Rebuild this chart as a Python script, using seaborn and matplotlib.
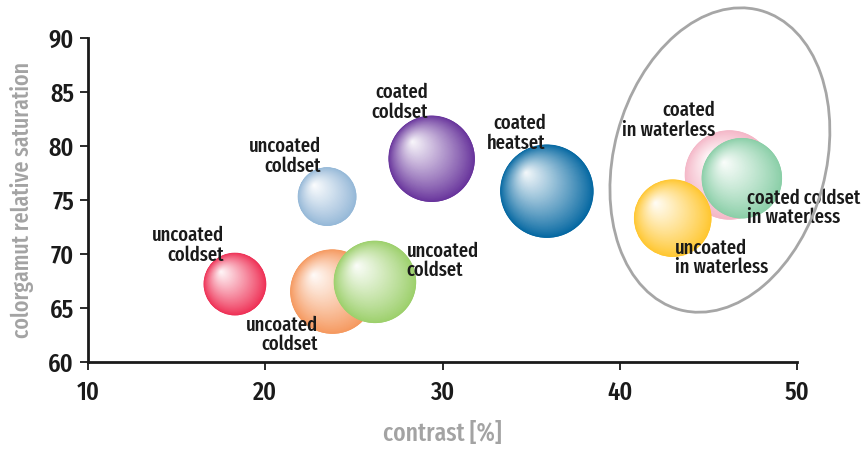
import numpy as np
import matplotlib
matplotlib.use("Agg")
import matplotlib.pyplot as plt
import seaborn as sns
import pandas as pd
from matplotlib.patches import Ellipse
from matplotlib.colors import to_rgb
from matplotlib import font_manager
from matplotlib.font_manager import FontProperties
from matplotlib.textpath import TextPath

# ---------------- data ----------------
labels = ["uncoated\ncoldset", "uncoated\ncoldset", "uncoated\ncoldset", "uncoated\ncoldset",
          "coated\ncoldset", "coated\nheatset", "coated\nin waterless",
          "coated coldset\nin waterless", "uncoated\nin waterless"]
contrast = [18.3, 23.5, 23.8, 26.2, 29.4, 35.9, 46.2, 46.9, 43.0]
saturation = [67.2, 75.3, 66.5, 67.4, 78.8, 75.8, 77.3, 77.0, 73.3]
bubble_size = [31, 29, 42, 41, 43, 46.5, 44.5, 40, 38.5]
bubble_colors = ["#EE2C52", "#93B7D7", "#F5975C", "#9BCF69", "#65309A",
                 "#0065A0", "#F4B6C7", "#88CEA6", "#FFC62C"]

# label anchors (data coords) and alignment
label_x = [17.67, 23.14, 22.97, 27.99, 29.18, 35.83, 45.36, 47.2, 43.1]
label_y = [70.83, 79.07, 62.5, 69.35, 84.07, 81.2, 82.4, 74.26, 69.63]
label_ha = ["right", "right", "right", "left", "right", "right", "right", "left", "left"]

x_ticks = [10, 20, 30, 40, 50]
y_ticks = [60, 65, 70, 75, 80, 85, 90]

ell_center = (45.65, 78.7)

DPI = 100

# ---------------- font search (condensed face preferred) ----------------
sns.set_theme(style="white")


def font_score(fn):
    fn = fn.lower().replace("-", "").replace("_", "").replace(" ", "")
    if "extracondensed" in fn or "ultracondensed" in fn:
        s = 0
    elif "semicondensed" in fn:
        s = 4
    elif "condensed" in fn or "narrow" in fn:
        s = 2
    else:
        return None
    if "italic" in fn or "oblique" in fn:
        s += 20
    if "medium" in fn:
        s += 0
    elif "semibold" in fn or "demibold" in fn:
        s += 1.5
    elif "extrabold" in fn or "black" in fn or "heavy" in fn:
        s += 12
    elif "bold" in fn:
        s += 6
    elif "extralight" in fn or "thin" in fn:
        s += 12
    elif "light" in fn:
        s += 6
    else:
        s += 1
    return s


cands = []
for f in font_manager.fontManager.ttflist:
    sc = font_score(f.fname.split("/")[-1])
    if sc is not None:
        cands.append((sc, f.fname))
cands.sort()
FONT_FILE = cands[0][1] if cands else None


def base_prop(size):
    if FONT_FILE:
        return FontProperties(fname=FONT_FILE, size=size)
    return FontProperties(family="DejaVu Sans", size=size)


def size_for(text, target_px, dim="width"):
    ext = TextPath((0, 0), text, prop=base_prop(10)).get_extents()
    w = ext.width if dim == "width" else ext.height
    return 10 * (target_px * 72.0 / DPI) / w


label_size = size_for("uncoated", 70)
tick_size = size_for("0", 18.5, dim="height")
xlab_size = size_for("contrast [%]", 117)
ylab_size = size_for("colorgamut relative saturation", 275)
plt.rcParams["font.family"] = ["DejaVu Sans"]

fig = plt.figure(figsize=(8.64, 4.51), dpi=DPI)
ax = fig.add_axes([88 / 864, 1 - 362 / 451, (797 - 88) / 864, (362 - 38) / 451])
ax.set_xlim(10, 50)
ax.set_ylim(60, 90)

df = pd.DataFrame({"contrast": contrast, "saturation": saturation})

px2pt = 72.0 / DPI
for i in range(len(contrast)):
    r = bubble_size[i]
    base = np.array(to_rgb(bubble_colors[i]))
    sns.scatterplot(data=df.iloc[[i]], x="contrast", y="saturation", ax=ax,
                    s=(2 * r * px2pt) ** 2, color=bubble_colors[i],
                    edgecolor="none", linewidth=0, zorder=3 + i * 0.01, legend=False)
    cx, cy = ax.transData.transform((contrast[i], saturation[i]))
    n = 70
    t = np.linspace(0.0, 1.0, n)[1:]
    off = np.array([-0.45 * r, 0.4 * r])
    xs = cx + t * off[0]
    ys = cy + t * off[1]
    pts = ax.transData.inverted().transform(np.column_stack([xs, ys]))
    radii = r * (1 - t) + 0.8
    w = np.clip(0.95 * t ** 0.9, 0, 1)
    cols = base[None, :] * (1 - w[:, None]) + w[:, None]
    ax.scatter(pts[:, 0], pts[:, 1], s=(2 * radii * px2pt) ** 2, c=cols,
               edgecolors="none", linewidths=0, zorder=3 + i * 0.01 + 0.005)

# group ellipse
ecx, ecy = ax.transData.transform(ell_center)
ell = Ellipse((ecx, ecy), width=2 * 106, height=2 * 155, angle=-15,
              transform=None, fill=False, edgecolor="#A6A6A6", linewidth=2.0,
              zorder=2, clip_on=False)
fig.add_artist(ell)

# labels
for i in range(len(labels)):
    ax.text(label_x[i], label_y[i], labels[i], ha=label_ha[i], va="center",
            fontproperties=base_prop(label_size), color="#1A1A1A", linespacing=1.0,
            zorder=10, multialignment=label_ha[i])

# axes styling
sns.despine(ax=ax)
for s in ["left", "bottom"]:
    ax.spines[s].set_color("#1A1A1A")
    ax.spines[s].set_linewidth(2.0)
ax.set_xticks(x_ticks)
ax.set_yticks(y_ticks)
ax.tick_params(axis="both", which="both", direction="out", length=6, width=1.3,
               colors="#1A1A1A", left=True, bottom=True)
ax.tick_params(axis="y", pad=4)
ax.tick_params(axis="x", pad=7)
for lab in ax.get_xticklabels() + ax.get_yticklabels():
    lab.set_fontproperties(base_prop(tick_size))
ax.grid(False)
ax.set_xlabel("contrast [%]", fontproperties=base_prop(xlab_size), color="#A3A3A3", labelpad=12)
ax.set_ylabel("colorgamut relative saturation", fontproperties=base_prop(ylab_size),
              color="#A3A3A3", labelpad=10)
ax.patch.set_alpha(0)

fig.savefig("out.png", dpi=DPI)
